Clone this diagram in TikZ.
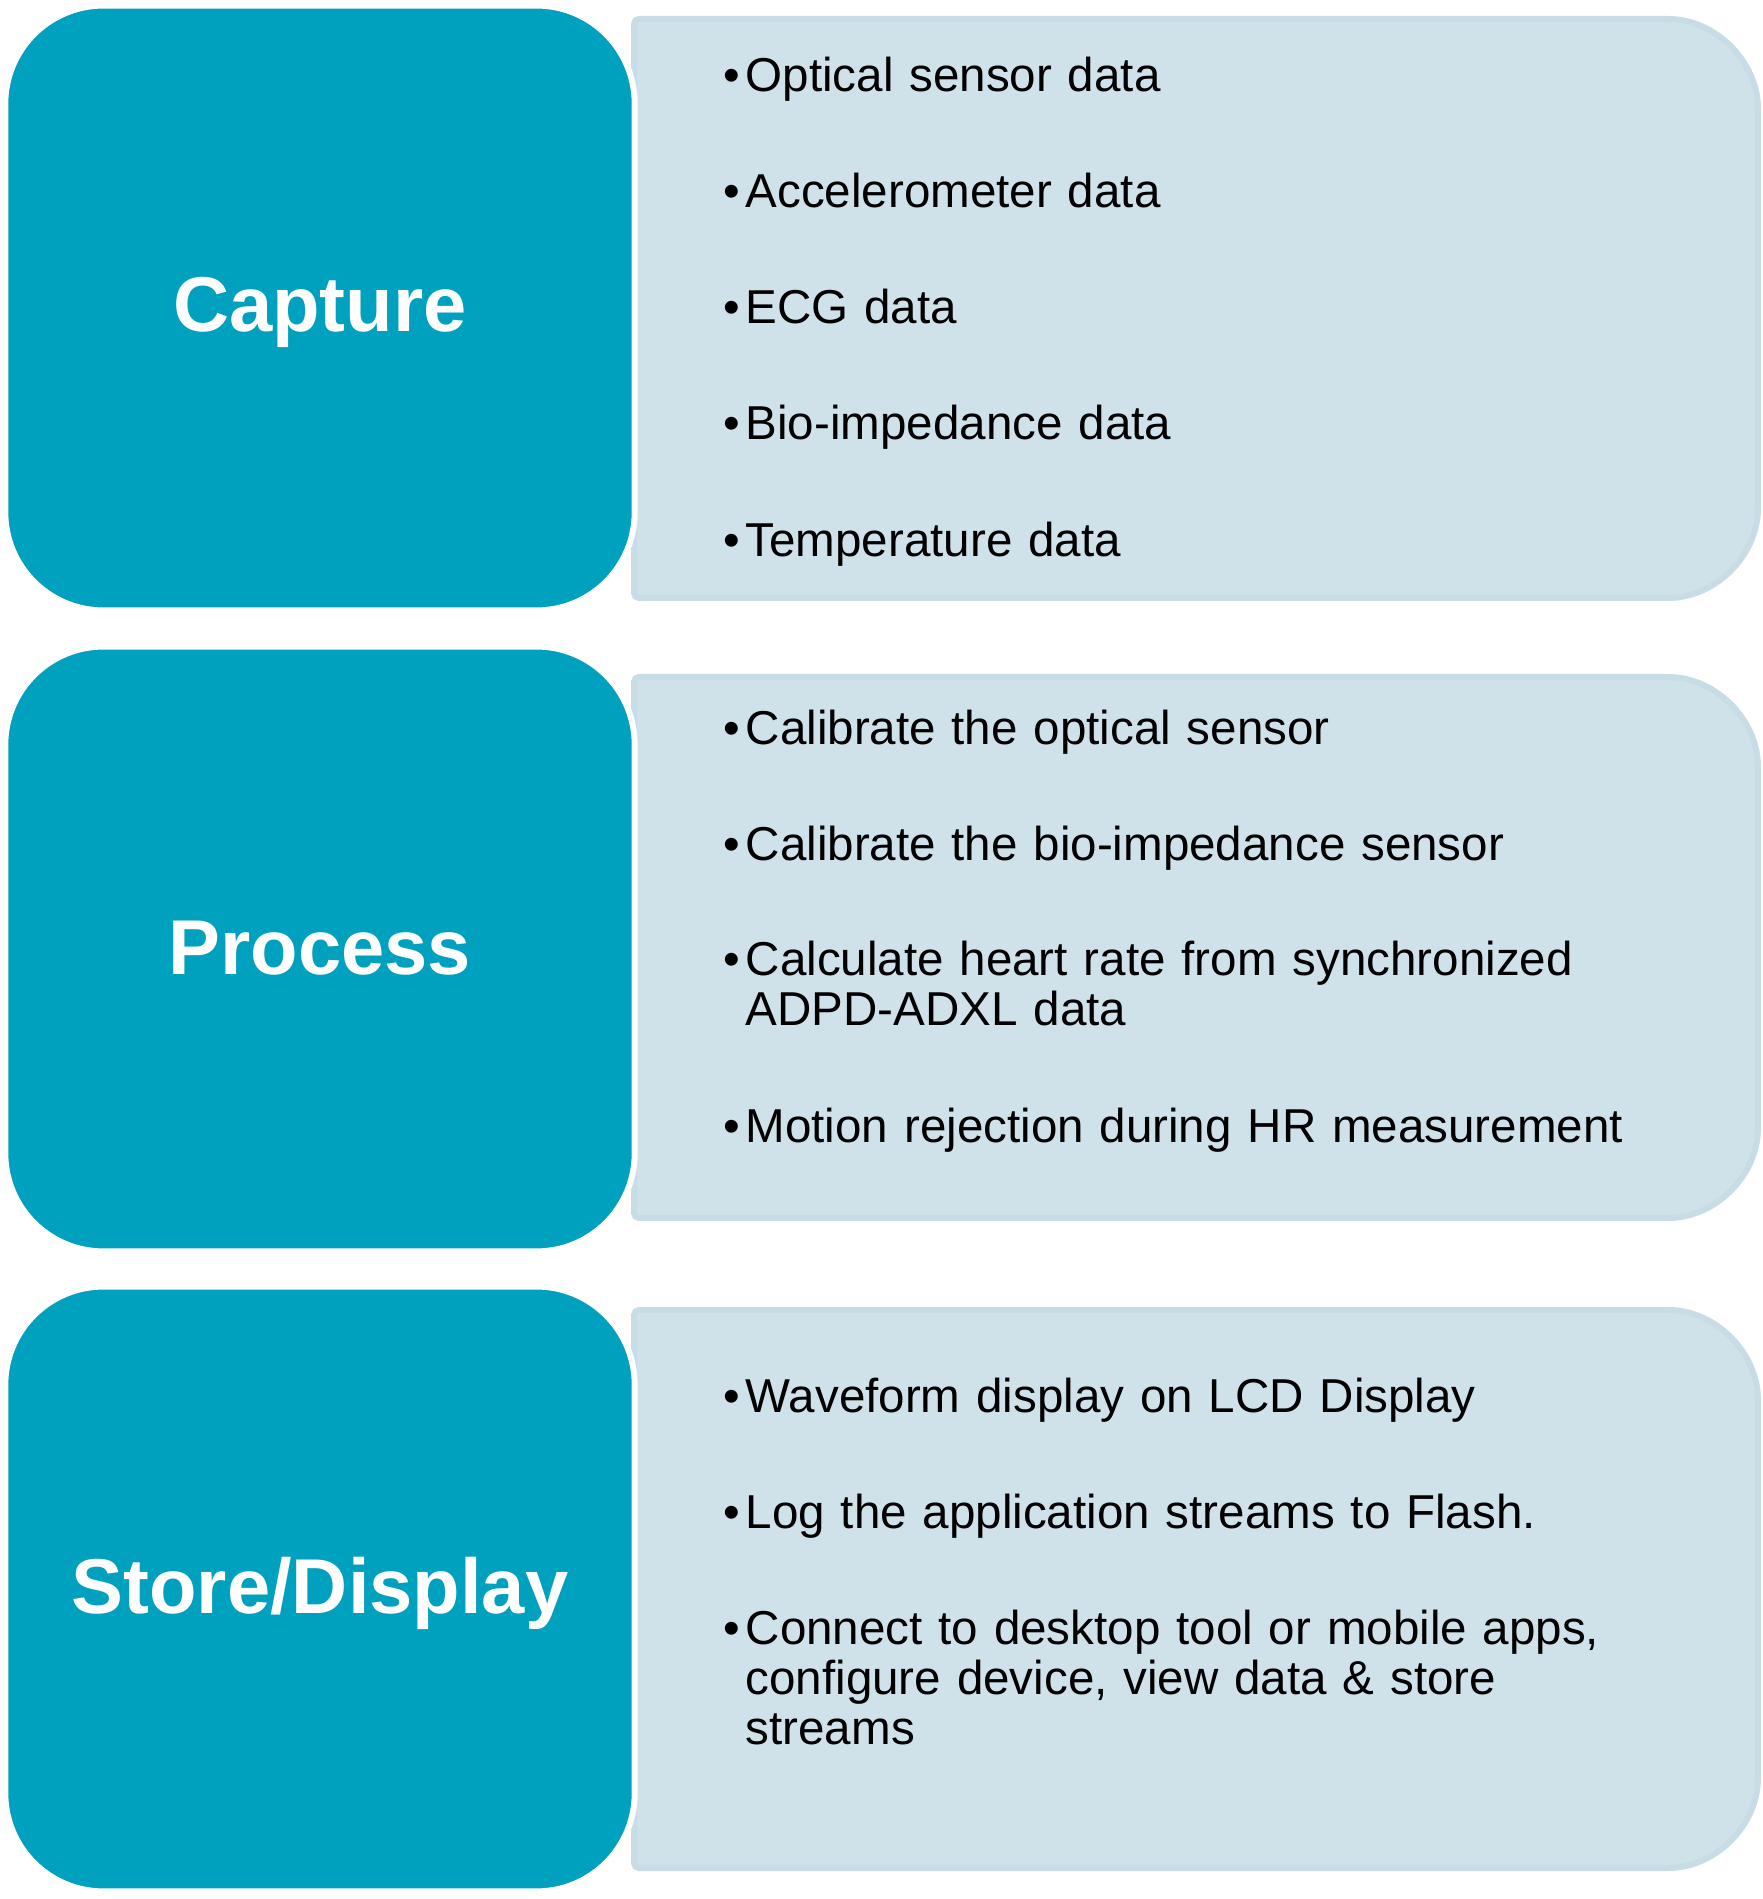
\documentclass[tikz,border=0pt]{standalone}
\usepackage{fontspec}
\setmainfont{Liberation Sans}
\definecolor{stageteal}{RGB}{0,160,191}
\definecolor{listfill}{RGB}{208,226,233}
\definecolor{listedge}{RGB}{199,220,228}
\tikzset{
  stage/.style={draw=white, line width=0.06cm, fill=stageteal, rounded corners=0.98cm,
    minimum width=6.29cm, minimum height=6.045cm, text=white,
    font=\fontsize{22.1pt}{24pt}\selectfont\bfseries},
  listbox/.style={fill=listfill, draw=listedge, line width=0.06cm, rounded corners=0.05cm},
  item/.style={anchor=base west, inner sep=0pt, text width=10cm, align=left,
    font=\fontsize{13.52pt}{14.2pt}\selectfont}
}
\newcommand{\itembullet}{\leavevmode\llap{\textbullet\hspace{0.06cm}}}

\begin{document}
\begin{tikzpicture}[x=0.01cm, y=0.01cm]
    \useasboundingbox (0,0) rectangle (1762,1899);

    % right hand lists
    \draw[listbox] (634,1880) -- (1663,1880) arc[start angle=90, end angle=0, radius=95]
      -- (1758,1396) arc[start angle=0, end angle=-90, radius=95] -- (634,1301) -- cycle;
    \draw[listbox] (634,1222) -- (1663,1222) arc[start angle=90, end angle=0, radius=95]
      -- (1758,776) arc[start angle=0, end angle=-90, radius=95] -- (634,681) -- cycle;
    \draw[listbox] (634,589) -- (1663,589) arc[start angle=90, end angle=0, radius=95]
      -- (1758,126) arc[start angle=0, end angle=-90, radius=95] -- (634,31) -- cycle;

    % stages
    \node[stage] (capture) at (320,1591) {};
    \node[stage] (process) at (320,950) {};
    \node[stage] (store) at (320,310) {};
    \node[text=white, font=\fontsize{22.1pt}{24pt}\selectfont\bfseries] (capturetitle) at (320,1587) {Capture};
    \node[text=white, font=\fontsize{22.1pt}{24pt}\selectfont\bfseries] (processtitle) at (320,951) {Process};
    \node[text=white, font=\fontsize{22.1pt}{24pt}\selectfont\bfseries] (storetitle) at (320,306) {Store/Display};

    \node[item] (cap1) at (745,1807) {\itembullet Optical sensor data};
    \node[item] (cap2) at (745,1691) {\itembullet Accelerometer data};
    \node[item] (cap3) at (745,1575) {\itembullet ECG data};
    \node[item] (cap4) at (745,1459) {\itembullet Bio-impedance data};
    \node[item] (cap5) at (745,1342) {\itembullet Temperature data};

    \node[item] (proc1) at (745,1154) {\itembullet Calibrate the optical sensor};
    \node[item] (proc2) at (745,1038) {\itembullet Calibrate the bio-impedance sensor};
    \node[item] (proc3) at (745,923) {\itembullet Calculate heart rate from synchronized\\ ADPD-ADXL data};
    \node[item] (proc4) at (745,756) {\itembullet Motion rejection during HR measurement};

    \node[item] (store1) at (745,486) {\itembullet Waveform display on LCD Display};
    \node[item] (store2) at (745,370) {\itembullet Log the application streams to Flash.};
    \node[item] (store3) at (745,254) {\itembullet Connect to desktop tool or mobile apps,\\ configure device, view data \& store\\ streams};

  \end{tikzpicture}
\end{document}
